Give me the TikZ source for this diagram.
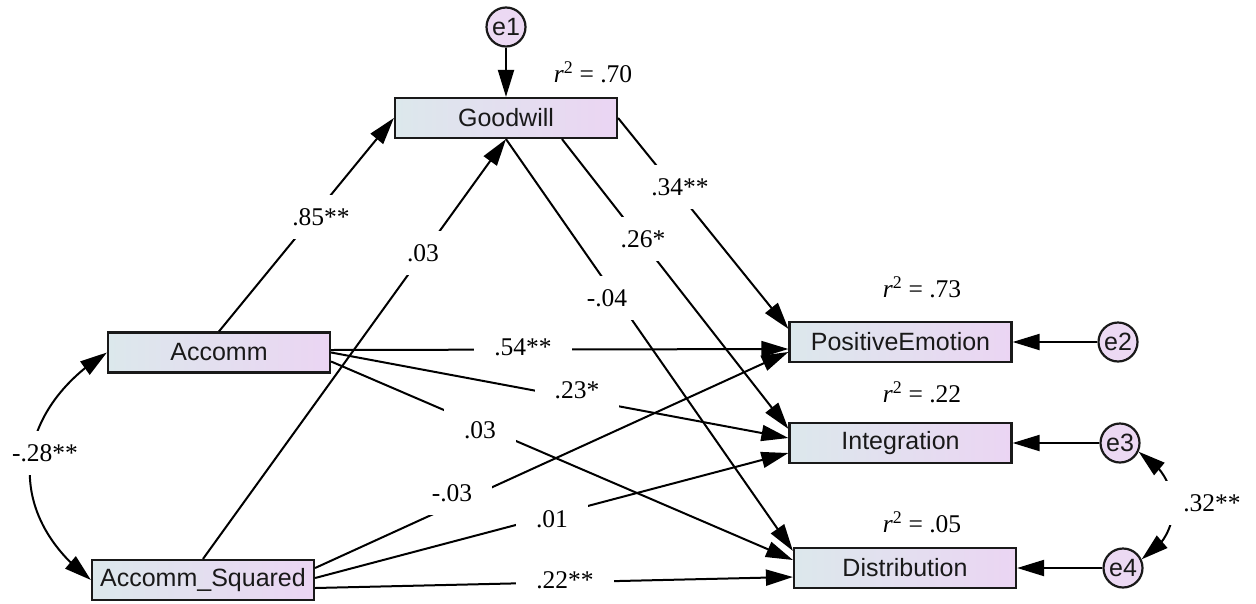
\documentclass[tikz,border=0pt]{standalone}
\usepackage{fontspec}
\setmainfont{Liberation Serif}
\newfontfamily\boxfont{Liberation Sans}
\usetikzlibrary{arrows.meta,bending}

\definecolor{boxleft}{RGB}{220,232,236}
\definecolor{boxright}{RGB}{235,213,243}
\definecolor{errfill}{RGB}{236,217,243}
\definecolor{edgeink}{RGB}{25,25,25}

\tikzset{
  obs/.style={rectangle, draw=edgeink, line width=2.2pt, minimum width=222pt,
    minimum height=40pt, inner sep=0pt, left color=boxleft, right color=boxright,
    font=\boxfont\fontsize{25}{25}\selectfont, text=edgeink},
  err/.style={circle, draw=edgeink, line width=2.2pt, minimum size=39pt,
    inner sep=0pt, fill=errfill, font=\boxfont\fontsize{25}{25}\selectfont, text=edgeink},
  conn/.style={line width=2pt, -{Triangle[length=27pt,width=16pt]}},
  cov/.style={line width=2pt,
    {Triangle[length=27pt,width=16pt]}-{Triangle[length=27pt,width=16pt]}},
  coef/.style={fill=white, inner xsep=20pt, inner ysep=13pt,
    font=\fontsize{25.5}{25.5}\selectfont},
  rsq/.style={inner sep=0pt, font=\fontsize{25.5}{25.5}\selectfont},
}
\newcommand{\rsqtext}[1]{{\itshape r}\textsuperscript{2} = #1}

\begin{document}
\begin{tikzpicture}[x=1pt, y=1pt]
  \useasboundingbox (0,0) rectangle (1256,-603);

  % observed variables
  \node[obs] (good) at (506,-118) {Goodwill};
  \node[obs] (acc)  at (219,-352.5) {Accomm};
  \node[obs] (accsq) at (203,-580) {Accomm\_Squared};
  \node[obs] (pos)  at (900.5,-342) {PositiveEmotion};
  \node[obs] (integ) at (900.5,-443) {Integration};
  \node[obs] (dist) at (905,-568) {Distribution};

  % error terms
  \node[err] (e1) at (506,-27) {e1};
  \node[err] (e2) at (1118,-342) {e2};
  \node[err] (e3) at (1120,-443) {e3};
  \node[err] (e4) at (1123,-568) {e4};

  % squared multiple correlations
  \node[rsq] (r1) at (593,-72)  {\rsqtext{.70}};
  \node[rsq] (r2) at (922,-287) {\rsqtext{.73}};
  \node[rsq] (r3) at (922,-392) {\rsqtext{.22}};
  \node[rsq] (r4) at (922,-522) {\rsqtext{.05}};

  % error paths
  \draw[conn] (e1.south) -- (good.north);
  \draw[conn] (e2.west) -- (pos.east);
  \draw[conn] (e3.west) -- (integ.east);
  \draw[conn] (e4.west) -- (dist.east);

  % structural paths
  \draw[conn] (acc.north) -- (good.west);
  \draw[conn] (accsq.north) -- (good.south);
  \draw[conn] (good.east) -- ([yshift=-8pt]pos.north west);
  \draw[conn] ([xshift=56pt]good.south) -- ([yshift=-7pt]integ.north west);
  \draw[conn] (good.south) -- ([yshift=-4pt]dist.north west);
  \draw[conn] ([yshift=2.5pt]acc.east) -- ([yshift=-7pt]pos.west);
  \draw[conn] (acc.east) -- ([yshift=5pt]integ.west);
  \draw[conn] ([yshift=-9pt]acc.east) -- ([yshift=8pt]dist.west);
  \draw[conn] ([yshift=12pt]accsq.east) -- ([yshift=-10pt]pos.west);
  \draw[conn] ([yshift=2pt]accsq.east) -- ([yshift=-10pt]integ.west);
  \draw[conn] ([yshift=-8pt]accsq.east) -- ([yshift=-9pt]dist.west);

  % covariances
  \draw[cov] (acc.west) to[out=212, in=143, looseness=1.25] (accsq.west);
  \draw[cov] (e3.-25) to[out=-30, in=30, looseness=1.2] (e4.25);

  % path coefficients
  \node[coef] (c1)  at (321,-217) {.85**};
  \node[coef] (c2)  at (423,-253) {.03};
  \node[coef] (c3)  at (680,-187) {.34**};
  \node[coef] (c4)  at (643,-239) {.26*};
  \node[coef] (c5)  at (607,-298) {-.04};
  \node[coef] (c6)  at (523,-347) {.54**};
  \node[coef] (c7)  at (577,-390) {.23*};
  \node[coef] (c8)  at (480,-430) {.03};
  \node[coef] (c9)  at (452,-493) {-.03};
  \node[coef] (c10) at (552,-519) {.01};
  \node[coef] (c11) at (565,-580) {.22**};
  \node[coef] (c12) at (45,-453) {-.28**};
  \node[coef] (c13) at (1212,-503) {.32**};
\end{tikzpicture}
\end{document}
